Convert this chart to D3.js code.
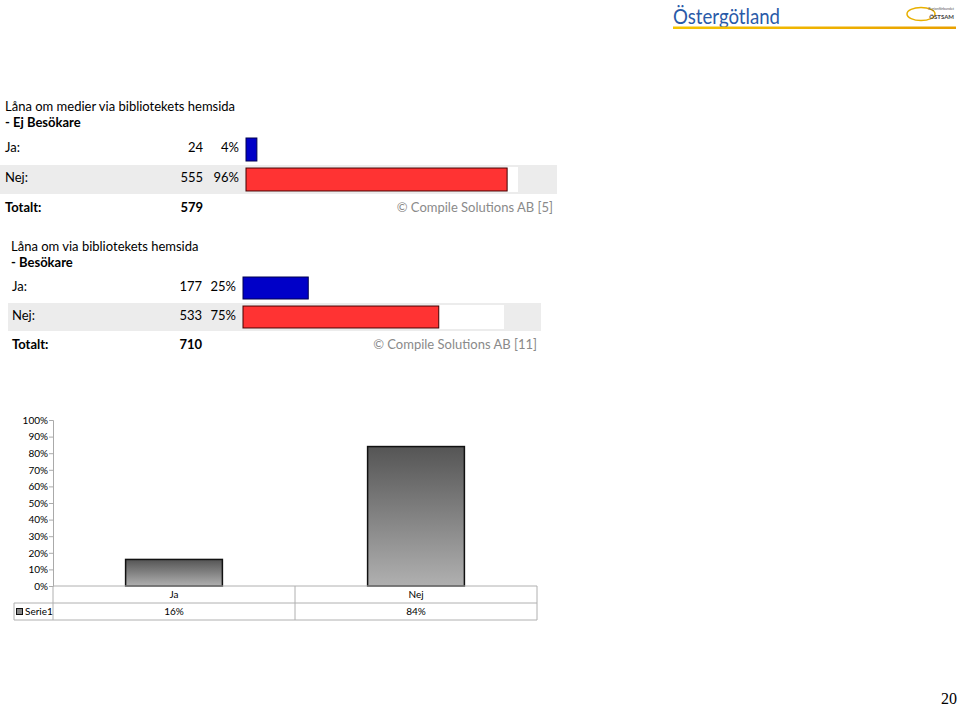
<!DOCTYPE html>
<html><head><meta charset="utf-8">
<script src="https://cdn.jsdelivr.net/npm/d3@7"></script>
<style>body{margin:0;background:#fff}svg{display:block}</style>
</head><body>
<script>
// ---- data ----
const p1Title = ["Låna om medier via bibliotekets hemsida", "- Ej Besökare"];
const p1Categories = ["Ja:", "Nej:"];
const p1Counts = [24, 555];
const p1Pct = [4, 96];
const p1Total = 579;
const p1Credit = "© Compile Solutions AB [5]";

const p2Title = ["Låna om via bibliotekets hemsida", "- Besökare"];
const p2Categories = ["Ja:", "Nej:"];
const p2Counts = [177, 533];
const p2Pct = [25, 75];
const p2Total = 710;
const p2Credit = "© Compile Solutions AB [11]";

const barCategories = ["Ja", "Nej"];
const barValues = [16, 84];
const barSeriesName = "Serie1";
const yTicks = [0,10,20,30,40,50,60,70,80,90,100];

const FONT = "Lato, 'Noto Sans', sans-serif";
const svg = d3.select("body").append("svg").attr("width",960).attr("height",708)
  .style("font-family", FONT);

const defs = svg.append("defs");
const g1 = defs.append("linearGradient").attr("id","greyGrad").attr("x1",0).attr("y1",0).attr("x2",0).attr("y2",1);
g1.append("stop").attr("offset","0%").attr("stop-color","#555");
g1.append("stop").attr("offset","100%").attr("stop-color","#b0b0b0");
const g2 = defs.append("linearGradient").attr("id","lineGrad").attr("x1",0).attr("y1",0).attr("x2",1).attr("y2",0);
g2.append("stop").attr("offset","0%").attr("stop-color","#f5c400");
g2.append("stop").attr("offset","100%").attr("stop-color","#e8a000");

// ---- header logo ----
svg.append("text").attr("x",673).attr("y",24).attr("font-size",22).attr("fill","#2a5aa8")
  .attr("textLength",107).attr("lengthAdjust","spacingAndGlyphs").text("Östergötland");
svg.append("rect").attr("x",673).attr("y",26.5).attr("width",283).attr("height",2.5).attr("fill","url(#lineGrad)");
svg.append("ellipse").attr("cx",921).attr("cy",14).attr("rx",14).attr("ry",6.5)
  .attr("fill","none").attr("stroke","#e8b000").attr("stroke-width",1.5);
svg.append("text").attr("x",954).attr("y",10).attr("text-anchor","end").attr("font-size",3.5).attr("fill","#555").text("Regionförbundet");
svg.append("text").attr("x",954).attr("y",19).attr("text-anchor","end").attr("font-size",6).attr("fill","#444").attr("font-weight","bold").text("ÖSTSAM");

// ---- horizontal panel ----
function panel(cfg){
  const g = svg.append("g");
  const x = d3.scaleLinear().domain([0,100]).range([cfg.barX0, cfg.barX1]);
  g.append("text").attr("x",cfg.titleX).attr("y",cfg.titleY).attr("font-size",13).text(cfg.title[0]);
  g.append("text").attr("x",cfg.titleX).attr("y",cfg.titleY+16).attr("font-size",13).attr("font-weight","bold").text(cfg.title[1]);
  const rowY = d => cfg.row0 + d*cfg.rowH;
  cfg.cats.forEach((c,i)=>{
    const top = rowY(i);
    if(i%2===1){
      g.append("rect").attr("x",cfg.bgX0).attr("y",top).attr("width",cfg.bgX1-cfg.bgX0).attr("height",cfg.rowH-1).attr("fill","#ececec");
      g.append("rect").attr("x",x(0)).attr("y",top+2).attr("width",x(100)-x(0)).attr("height",cfg.rowH-5).attr("fill","#fff");
    }
    g.append("rect").attr("x",x(0)).attr("y",top+3).attr("width",x(cfg.pct[i])-x(0)).attr("height",cfg.rowH-7)
      .attr("fill", i===0 ? "#0000c8" : "#ff3333").attr("stroke", i===0 ? "#000050" : "#400000").attr("stroke-width",1);
    const ty = top + cfg.rowH/2 + 2;
    g.append("text").attr("x",cfg.labelX).attr("y",ty).attr("font-size",13).text(c);
    g.append("text").attr("x",cfg.countR).attr("y",ty).attr("font-size",13).attr("text-anchor","end").text(cfg.counts[i]);
    g.append("text").attr("x",cfg.pctR).attr("y",ty).attr("font-size",13).attr("text-anchor","end").text(cfg.pct[i]+"%");
  });
  const ty = rowY(cfg.cats.length) + cfg.rowH/2 + 2;
  g.append("text").attr("x",cfg.labelX).attr("y",ty).attr("font-size",13).attr("font-weight","bold").text("Totalt:");
  g.append("text").attr("x",cfg.countR).attr("y",ty).attr("font-size",13).attr("font-weight","bold").attr("text-anchor","end").text(cfg.total);
  g.append("text").attr("x",cfg.creditR).attr("y",ty).attr("font-size",13).attr("fill","#8a8a8a").attr("text-anchor","end").text(cfg.credit);
}
panel({title:p1Title,cats:p1Categories,counts:p1Counts,pct:p1Pct,total:p1Total,credit:p1Credit,
  titleX:5,titleY:111,labelX:5,row0:135,rowH:30,bgX0:0,bgX1:557,barX0:246,barX1:518,countR:203,pctR:239,creditR:553});
panel({title:p2Title,cats:p2Categories,counts:p2Counts,pct:p2Pct,total:p2Total,credit:p2Credit,
  titleX:11,titleY:251,labelX:12,row0:274,rowH:29,bgX0:8,bgX1:541,barX0:243,barX1:504,countR:202,pctR:236,creditR:537});

// ---- column chart ----
const cg = svg.append("g").style("font-size","10px");
const left = 53, right = 537, yTop = 420, yBot = 586, row1 = 603, row2 = 620, legX = 14;
const y = d3.scaleLinear().domain([0,100]).range([yBot, yTop]);
const xb = d3.scaleBand().domain(barCategories).range([left,right]);
const yAxis = cg.append("g").attr("transform",`translate(${left},0)`)
  .call(d3.axisLeft(y).tickValues(yTicks).tickSize(4).tickFormat(d=>d+"%"));
yAxis.select(".domain").attr("stroke","#aaa");
yAxis.selectAll(".tick line").attr("stroke","#aaa");
yAxis.selectAll(".tick text").attr("fill","#000").attr("font-family",FONT).attr("font-size",10).attr("x",-5);

cg.selectAll("rect.bar").data(barCategories).join("rect").attr("class","bar")
  .attr("x",d=>xb(d)+xb.bandwidth()*0.3).attr("width",xb.bandwidth()*0.4)
  .attr("y",(d,i)=>y(barValues[i])).attr("height",(d,i)=>yBot-y(barValues[i]))
  .attr("fill","url(#greyGrad)").attr("stroke","#111").attr("stroke-width",1.5);

// data table
const ln = (x1,y1,x2,y2)=>cg.append("line").attr("x1",x1).attr("y1",y1).attr("x2",x2).attr("y2",y2).attr("stroke","#b0b0b0").attr("stroke-width",1);
ln(left,yBot,right,yBot);
ln(legX,row1,right,row1);
ln(legX,row2,right,row2);
ln(legX,row1,legX,row2);
ln(left,yBot,left,row2);
ln(right,yBot,right,row2);
barCategories.slice(1).forEach(c=>ln(xb(c),yBot,xb(c),row2));
cg.selectAll("text.cat").data(barCategories).join("text").attr("class","cat")
  .attr("x",d=>xb(d)+xb.bandwidth()/2).attr("y",598).attr("text-anchor","middle").text(d=>d);
cg.selectAll("text.val").data(barValues).join("text").attr("class","val")
  .attr("x",(d,i)=>xb(barCategories[i])+xb.bandwidth()/2).attr("y",615).attr("text-anchor","middle").text(d=>d+"%");
cg.append("rect").attr("x",16.5).attr("y",608.5).attr("width",6).attr("height",6).attr("fill","#888").attr("stroke","#111");
cg.append("text").attr("x",25).attr("y",615).text(barSeriesName);

// page number
svg.append("text").attr("x",957).attr("y",704).attr("text-anchor","end").attr("font-size",16)
  .attr("font-family","'Liberation Serif', 'DejaVu Serif', serif").text("20");
</script>
</body></html>
